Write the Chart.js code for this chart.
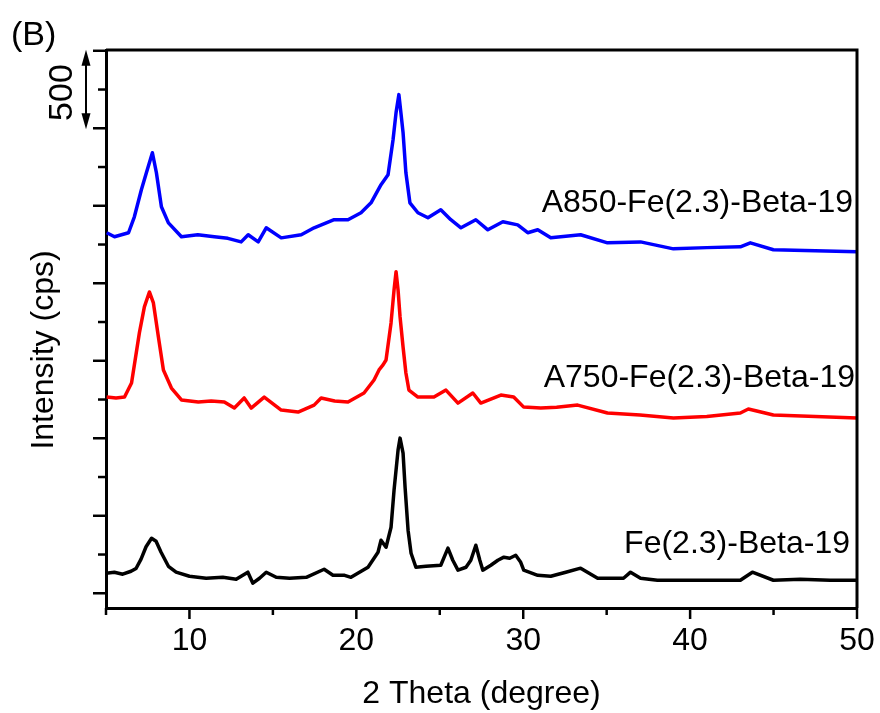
<!DOCTYPE html>
<html>
<head>
<meta charset="utf-8">
<script src="https://cdn.jsdelivr.net/npm/chart.js@4.4.0/dist/chart.umd.min.js"></script>
<style>
html,body{margin:0;padding:0;background:#fff;}
#wrap{width:880px;height:713px;}
</style>
</head>
<body>
<div id="wrap"><canvas id="c" width="880" height="713"></canvas></div>
<script>
const FONT = "'Liberation Sans', Arial, Helvetica, sans-serif";

// ---- data (2 Theta in degrees, intensity in cps as plotted, with vertical offsets) ----
const blackX = [5.0,5.5,6.0,6.5,6.8,7.1,7.4,7.73,8.0,8.3,8.74,9.2,10.0,11.0,12.0,12.8,13.5,13.8,14.2,14.6,15.2,16.0,17.0,18.07,18.6,19.3,19.68,20.7,21.3,21.48,21.78,22.08,22.26,22.5,22.62,22.8,22.92,23.1,23.28,23.57,24.17,25.06,25.49,25.78,26.09,26.57,26.86,27.16,27.4,27.58,28.06,28.48,28.84,29.19,29.55,29.85,30.03,30.87,31.65,32.55,33.44,34.46,36.01,36.43,37.03,38.04,40.62,43.01,43.73,44.99,46.6,48.39,50];
const blackY = [129,136,123,142,160,220,300,355,336,265,174,136,110,97,103,90,136,65,97,136,103,97,103,155,116,116,103,168,265,342,297,426,665,924,1001,904,685,407,258,168,174,181,291,213,149,168,213,310,213,149,181,213,233,226,245,200,149,116,110,136,162,97,97,136,97,84,84,84,136,84,90,84,84];

const redX = [5.04,5.6,6.11,6.53,7.0,7.3,7.6,7.84,8.14,8.44,8.92,9.52,10.53,11.3,12.09,12.69,13.28,13.7,14.48,15.5,16.51,17.47,17.89,18.7,19.5,20.46,21.06,21.36,21.6,21.78,22.08,22.26,22.38,22.5,22.62,22.8,22.97,23.15,23.69,24.65,25.37,26.09,26.98,27.46,28.66,29.43,30.03,31.05,32.0,33.26,35.05,37.0,39.0,41.0,43.01,43.49,44.99,47.5,50.0];
const redY = [1266,1260,1266,1357,1680,1848,1944,1873,1654,1441,1324,1247,1234,1240,1234,1195,1260,1195,1266,1182,1169,1214,1260,1240,1234,1292,1376,1441,1473,1505,1744,1957,2074,1957,1783,1589,1421,1311,1266,1266,1311,1227,1292,1227,1279,1266,1201,1195,1200,1214,1163,1150,1131,1140,1163,1189,1150,1140,1131];

const blueX = [5.04,5.51,6.35,6.7,7.12,7.42,7.78,8.02,8.32,8.74,9.52,10.5,11.49,12.3,13.1,13.52,14.12,14.6,15.5,16.7,17.47,18.67,19.5,20.28,20.88,21.48,21.9,22.2,22.38,22.55,22.67,22.8,22.97,23.21,23.69,24.29,25.06,25.66,26.27,27.16,27.88,28.78,29.67,30.27,30.87,31.65,33.44,35.05,37.03,39.0,41.0,43.01,43.61,44.99,47.5,50];
const blueY = [2326,2300,2326,2429,2603,2713,2842,2713,2494,2390,2300,2313,2300,2290,2267,2313,2267,2358,2293,2313,2358,2410,2410,2455,2519,2636,2700,2926,3101,3217,3101,2972,2713,2519,2455,2423,2474,2410,2358,2410,2345,2397,2377,2326,2345,2293,2313,2261,2267,2222,2230,2235,2261,2216,2210,2203];

const seriesNames = ['Fe(2.3)-Beta-19', 'A750-Fe(2.3)-Beta-19', 'A850-Fe(2.3)-Beta-19'];
const seriesColors = ['#000000', '#ff0000', '#0000ff'];

// ---- ticks ----
const xMajorTicks = [10, 20, 30, 40, 50];
const xMinorTicks = [5, 15, 25, 35, 45];
const yMajorTicks = [0, 500, 1000, 1500, 2000, 2500, 3000, 3500];
const yMinorTicks = [250, 750, 1250, 1750, 2250, 2750, 3250];
const scaleBarValues = [3000, 3500];
const scaleBarText = '500';

const toPoints = (xs, ys) => xs.map((x, i) => ({x: x, y: ys[i]}));

// label anchors (x in degrees, y in cps) for the series names
const labelAnchors = [
  {x: 49.58, y: 258},
  {x: 49.88, y: 1331},
  {x: 49.76, y: 2461}
];

const decoPlugin = {
  id: 'deco',
  afterDatasetsDraw(chart) {
    const {ctx, chartArea: a, scales} = chart;
    const x = scales.x, y = scales.y;
    ctx.save();
    ctx.strokeStyle = '#000';
    ctx.lineWidth = 3;
    ctx.beginPath();
    ctx.moveTo(a.left, a.top);
    ctx.lineTo(a.right, a.top);
    ctx.lineTo(a.right, a.bottom);
    ctx.stroke();
    ctx.lineWidth = 2.5;
    const seg = (x1, y1, x2, y2) => { ctx.beginPath(); ctx.moveTo(x1, y1); ctx.lineTo(x2, y2); ctx.stroke(); };
    yMajorTicks.forEach(v => { const p = y.getPixelForValue(v); seg(a.left, p, a.left - 13, p); });
    yMinorTicks.forEach(v => { const p = y.getPixelForValue(v); seg(a.left, p, a.left - 8, p); });
    xMajorTicks.forEach(v => { const p = x.getPixelForValue(v); seg(p, a.bottom, p, a.bottom + 11); });
    xMinorTicks.forEach(v => { const p = x.getPixelForValue(v); seg(p, a.bottom, p, a.bottom + 7); });

    ctx.fillStyle = '#000';
    ctx.font = '32px ' + FONT;
    ctx.textAlign = 'right';
    ctx.textBaseline = 'alphabetic';
    seriesNames.forEach((n, i) => {
      ctx.fillText(n, x.getPixelForValue(labelAnchors[i].x), y.getPixelForValue(labelAnchors[i].y));
    });

    const ax = 86;
    const y1 = y.getPixelForValue(scaleBarValues[1]);
    const y2 = y.getPixelForValue(scaleBarValues[0]);
    ctx.lineWidth = 2;
    seg(ax, y1 + 10, ax, y2 - 10);
    ctx.beginPath();
    ctx.moveTo(ax, y1 - 1); ctx.lineTo(ax - 4.5, y1 + 15); ctx.lineTo(ax + 4.5, y1 + 15); ctx.closePath(); ctx.fill();
    ctx.beginPath();
    ctx.moveTo(ax, y2 + 1); ctx.lineTo(ax - 4.5, y2 - 15); ctx.lineTo(ax + 4.5, y2 - 15); ctx.closePath(); ctx.fill();

    ctx.save();
    ctx.translate(63, (y1 + y2) / 2 + 3);
    ctx.rotate(-Math.PI / 2);
    ctx.font = '34px ' + FONT;
    ctx.textAlign = 'center';
    ctx.textBaseline = 'middle';
    ctx.fillText(scaleBarText, 0, 0);
    ctx.restore();

    ctx.save();
    ctx.translate(44, 350);
    ctx.rotate(-Math.PI / 2);
    ctx.font = '32px ' + FONT;
    ctx.textAlign = 'center';
    ctx.textBaseline = 'middle';
    ctx.fillText('Intensity (cps)', 0, 0);
    ctx.restore();

    ctx.font = '34px ' + FONT;
    ctx.textAlign = 'left';
    ctx.textBaseline = 'alphabetic';
    ctx.fillText('(B)', 11, 45);
    ctx.restore();
  }
};

const mkDs = (xs, ys, i) => ({
  label: seriesNames[i],
  data: toPoints(xs, ys),
  borderColor: seriesColors[i],
  backgroundColor: seriesColors[i],
  borderWidth: 3.5,
  borderJoinStyle: 'round',
  pointRadius: 0,
  tension: 0,
  fill: false
});

new Chart(document.getElementById('c'), {
  type: 'line',
  data: {
    datasets: [
      mkDs(blackX, blackY, 0),
      mkDs(redX, redY, 1),
      mkDs(blueX, blueY, 2)
    ]
  },
  options: {
    responsive: false,
    animation: false,
    devicePixelRatio: 1,
    layout: {padding: {top: 50, right: 23, left: 0, bottom: 0}},
    plugins: {legend: {display: false}, tooltip: {enabled: false}},
    scales: {
      x: {
        type: 'linear',
        min: 5, max: 50,
        afterBuildTicks: s => { s.ticks = xMajorTicks.map(v => ({value: v})); },
        afterFit: s => { s.height = 105; s.paddingLeft = 0; s.paddingRight = 0; },
        grid: {display: false, drawTicks: false},
        border: {display: true, color: '#000', width: 3},
        ticks: {
          color: '#000', font: {family: FONT, size: 32},
          padding: 14, maxRotation: 0, autoSkip: false,
          callback: v => String(v)
        },
        title: {display: true, text: '2 Theta (degree)', color: '#000', font: {family: FONT, size: 32}, padding: {top: 0, bottom: 0}}
      },
      y: {
        type: 'linear',
        min: -95, max: 3505,
        afterFit: s => { s.width = 106; s.paddingTop = 0; s.paddingBottom = 0; },
        grid: {display: false, drawTicks: false},
        border: {display: true, color: '#000', width: 3},
        ticks: {display: false}
      }
    }
  },
  plugins: [decoPlugin]
});
</script>
</body>
</html>
